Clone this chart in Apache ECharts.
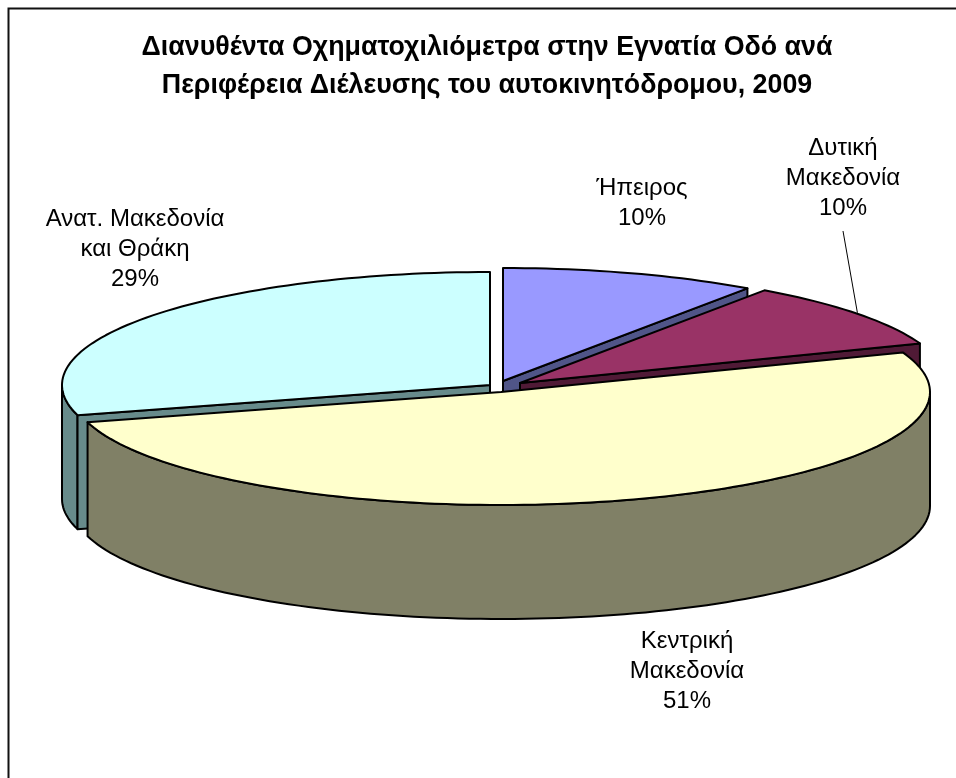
<!DOCTYPE html>
<html><head><meta charset="utf-8">
<style>html,body{margin:0;padding:0;background:#fff;overflow:hidden}#c{width:956px;height:778px}</style>
<script src="https://cdn.jsdelivr.net/npm/echarts@6/dist/echarts.min.js"></script>
</head><body><div id="c"></div>
<script>
const titleLines = ['Διανυθέντα Οχηματοχιλιόμετρα στην Εγνατία Οδό ανά','Περιφέρεια Διέλευσης του αυτοκινητόδρομου, 2009'];
const regions = ['Ήπειρος','Δυτική\nΜακεδονία','Κεντρική\nΜακεδονία','Ανατ. Μακεδονία\nκαι Θράκη'];
const shares = [9.7, 9.6, 51.4, 29.3];

// presentation only
const topColors  = ['#9999FF','#993366','#FFFFCC','#CCFFFF'];
const sideColors = ['#505588','#501A36','#808066','#678B8B'];
const centers = [[503,381],[520,383],[501,392],[490,385]];
const radiiX = [427,427,429,428];
const drawOrder = [1,2,4,3];
const labelAt = [[642,203],[843,178],[687,671],[135,249]];
const B = 113, DEPTH = 114;
const total = shares.reduce((s,v)=>s+v,0);

function pt(c,a,deg,dy){const t=deg*Math.PI/180;return [c[0]+a*Math.sin(t),c[1]-B*Math.cos(t)+(dy||0)];}
function arc(c,a,from,to,dy){const n=Math.max(2,Math.ceil(Math.abs(to-from)/1.5)),r=[];for(let i=0;i<=n;i++)r.push(pt(c,a,from+(to-from)*i/n,dy));return r;}
function poly(points,fill,z2){return {type:'polygon',z2,shape:{points},style:{fill,stroke:'#000',lineWidth:2,lineJoin:'round'}};}

function renderItem(params,api){
  const i=params.dataIndex; let start=0;
  for(let k=0;k<i;k++) start+=shares[k];
  start=start/total*360;
  const end=start+api.value(0)/total*360, c=centers[i], a=radiiX[i], z=drawOrder[i]*10, kids=[];
  // outer wall: the part of the rim that faces the viewer
  const wf=Math.max(start,90), wt=Math.min(end,270);
  if(wt>wf) kids.push(poly(arc(c,a,wf,wt,0).concat(arc(c,a,wt,wf,DEPTH)),sideColors[i],z));
  // cut face showing towards the viewer
  const cut=(end<=90)?end:(start>=180?start:null);
  if(cut!==null){const p=pt(c,a,cut,0);
    kids.push(poly([c,p,[p[0],p[1]+DEPTH],[c[0],c[1]+DEPTH]],sideColors[i],z+1));}
  // top face
  kids.push(poly([c].concat(arc(c,a,start,end,0)),topColors[i],z+2));
  // label
  const pct=Math.round(api.value(0)/total*100)+'%';
  kids.push({type:'text',z2:100,style:{text:regions[i]+'\n'+pct,x:labelAt[i][0],y:labelAt[i][1],align:'center',verticalAlign:'middle',
    font:'24px "Liberation Sans"',lineHeight:30,fill:'#000'}});
  if(i===1){
    const tip=pt(c,a,(start+end)/2,0);
    kids.push({type:'line',z2:100,shape:{x1:843,y1:231,x2:tip[0],y2:tip[1]-1},style:{stroke:'#000',lineWidth:1}});
  }
  return {type:'group',children:kids};
}

const chart=echarts.init(document.getElementById('c'),null,{width:956,height:778});
chart.setOption({
  animation:false,
  backgroundColor:'#fff',
  title:{text:titleLines.join('\n'),left:482,top:24,textAlign:'center',
    textStyle:{fontFamily:'Liberation Sans',fontWeight:'bold',fontSize:26.8,lineHeight:38,color:'#000'}},
  graphic:[{type:'rect',silent:true,z:-1,shape:{x:8.5,y:8.5,width:960,height:780},style:{fill:'none',stroke:'#111',lineWidth:2}}],
  series:[{type:'custom',coordinateSystem:'none',renderItem,data:shares.map(v=>[v]),encode:{value:0},silent:true,clip:false}]
});
</script></body></html>
